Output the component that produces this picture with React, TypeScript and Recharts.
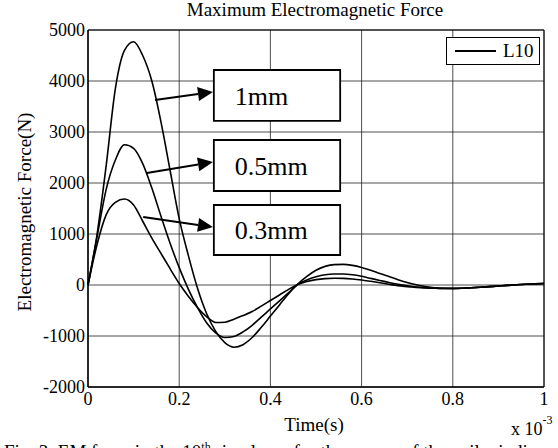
import {
  LineChart,
  Line,
  XAxis,
  YAxis,
  CartesianGrid,
  Legend,
  ReferenceArea,
  ReferenceLine,
} from 'recharts'

const FONT = 'Liberation Serif, Times New Roman, Times, serif'

// time in ms (axis shows x 10^-3 s)
const time = [
  0, 0.02, 0.04, 0.06, 0.08, 0.1, 0.12, 0.14, 0.16, 0.18, 0.2, 0.22, 0.24, 0.26, 0.28, 0.3, 0.32,
  0.34, 0.36, 0.38, 0.4, 0.42, 0.44, 0.46, 0.48, 0.5, 0.52, 0.54, 0.56, 0.58, 0.6, 0.62, 0.64,
  0.66, 0.68, 0.7, 0.72, 0.74, 0.76, 0.78, 0.8, 0.82, 0.84, 0.86, 0.88, 0.9, 0.92, 0.94, 0.96,
  0.98, 1,
]

const force1mm = [
  0, 1000, 2350, 3850, 4600, 4770, 4500, 4000, 3200, 2250, 1300, 580, -60, -560, -910, -1130,
  -1220, -1170, -1030, -830, -610, -390, -170, 20, 170, 290, 365, 400, 405, 385, 345, 290, 225,
  165, 105, 50, 5, -30, -55, -65, -68, -65, -55, -45, -32, -20, -8, 5, 15, 22, 28,
]

const force05mm = [
  0, 950, 1880, 2450, 2750, 2680, 2380, 1900, 1350, 820, 340, -80, -440, -740, -940, -1030,
  -1010, -920, -790, -630, -470, -310, -150, 10, 100, 160, 200, 215, 215, 200, 170, 130, 90, 50,
  15, -15, -38, -52, -62, -68, -68, -64, -55, -44, -32, -20, -8, 5, 15, 22, 28,
]

const force03mm = [
  0, 800, 1380, 1620, 1685, 1570, 1250, 920, 620, 320, 30, -220, -440, -620, -735, -730, -670,
  -600, -520, -415, -305, -195, -85, 10, 70, 105, 125, 132, 130, 118, 98, 72, 45, 15, -12, -32,
  -46, -56, -62, -66, -67, -64, -55, -44, -32, -20, -8, 5, 15, 22, 28,
]

const xTicks = [0, 0.2, 0.4, 0.6, 0.8, 1]
const yTicks = [-2000, -1000, 0, 1000, 2000, 3000, 4000, 5000]
const legendLabels = ['L10']

// annotation boxes and the arrows pointing at the curves
const annotations = [
  { label: '1mm', x1: 0.276, x2: 0.553, y1: 3220, y2: 4216 },
  { label: '0.5mm', x1: 0.276, x2: 0.553, y1: 1843, y2: 2843 },
  { label: '0.3mm', x1: 0.276, x2: 0.553, y1: 588, y2: 1569 },
]
const arrows = [
  { from: { x: 0.147, y: 3628 }, to: { x: 0.274, y: 3785 } },
  { from: { x: 0.129, y: 2196 }, to: { x: 0.274, y: 2412 } },
  { from: { x: 0.121, y: 1333 }, to: { x: 0.274, y: 1137 } },
]

const data = time.map((t, i) => ({
  t,
  a: force1mm[i],
  b: force05mm[i],
  c: force03mm[i],
}))

const serif = { fontFamily: FONT }

const XTick = ({ x, y, payload }: any) => (
  <text x={x} y={y + 13} textAnchor="middle" fontSize={18} fill="#000" style={serif}>
    {String(payload.value)}
  </text>
)

const YTick = ({ x, y, payload }: any) => (
  <text x={x} y={y + 6} textAnchor="end" fontSize={18} fill="#000" style={serif}>
    {String(payload.value)}
  </text>
)

const ArrowShape = (props: any) => {
  const { x1, y1, x2, y2 } = props
  const dx = x2 - x1
  const dy = y2 - y1
  const len = Math.sqrt(dx * dx + dy * dy)
  const ux = dx / len
  const uy = dy / len
  const head = 15
  const half = 7
  const bx = x2 - ux * head
  const by = y2 - uy * head
  const pts = `${x2},${y2} ${bx - uy * half},${by + ux * half} ${bx + uy * half},${by - ux * half}`
  return (
    <g>
      <line x1={x1} y1={y1} x2={bx} y2={by} stroke="#000" strokeWidth={2} />
      <polygon points={pts} fill="#000" />
    </g>
  )
}

const LegendBox = () => (
  <div
    style={{
      width: 92,
      height: 26,
      border: '1.5px solid #000',
      background: '#fff',
      display: 'flex',
      alignItems: 'center',
      fontFamily: FONT,
      fontSize: 19,
      color: '#000',
    }}
  >
    {legendLabels.map((l) => (
      <span key={l} style={{ display: 'flex', alignItems: 'center' }}>
        <span
          style={{ display: 'inline-block', width: 41, height: 2, background: '#000', marginLeft: 8, marginRight: 7 }}
        />
        {l}
      </span>
    ))}
  </div>
)

export default function App() {
  return (
    <div
      style={{
        position: 'absolute',
        left: 0,
        top: 0,
        width: 558,
        height: 448,
        overflow: 'hidden',
        background: '#fff',
        fontFamily: FONT,
      }}
    >
      <LineChart
        width={558}
        height={448}
        data={data}
        margin={{ top: 30, right: 14, bottom: 31, left: 28 }}
        style={serif}
      >
        <CartesianGrid stroke="#222" strokeWidth={0.8} />
        <XAxis
          dataKey="t"
          type="number"
          domain={[0, 1]}
          ticks={xTicks}
          height={30}
          tickSize={0}
          tickMargin={5}
          stroke="#000"
          tick={<XTick />}
        />
        <YAxis
          type="number"
          domain={[-2000, 5000]}
          ticks={yTicks}
          width={60}
          tickSize={0}
          tickMargin={3}
          stroke="#000"
          tick={<YTick />}
        />
        <ReferenceArea x1={0} x2={1} y1={-2000} y2={5000} fill="none" fillOpacity={0} stroke="#000" strokeWidth={1} />
        <Line type="monotone" dataKey="a" name="1mm" stroke="#000" strokeWidth={1.6} dot={false} activeDot={false} isAnimationActive={false} />
        <Line type="monotone" dataKey="b" name="0.5mm" stroke="#000" strokeWidth={1.6} dot={false} activeDot={false} isAnimationActive={false} />
        <Line type="monotone" dataKey="c" name="0.3mm" stroke="#000" strokeWidth={1.6} dot={false} activeDot={false} isAnimationActive={false} />
        {annotations.map((a) => (
          <ReferenceArea
            key={a.label}
            x1={a.x1}
            x2={a.x2}
            y1={a.y1}
            y2={a.y2}
            fill="#fff"
            fillOpacity={1}
            stroke="#000"
            strokeWidth={1.8}
            label={{ value: a.label, position: 'insideLeft', offset: 21, fontSize: 26, fill: '#000', fontFamily: FONT }}
          />
        ))}
        {arrows.map((ar, i) => (
          <ReferenceLine key={i} segment={[ar.from, ar.to]} shape={ArrowShape} stroke="#000" />
        ))}
        <Legend
          layout="horizontal"
          verticalAlign="middle"
          align="center"
          wrapperStyle={{ top: 37, left: 446, width: 95 }}
          content={() => <LegendBox />}
        />
      </LineChart>
      <svg
        width={558}
        height={448}
        style={{ position: 'absolute', left: 0, top: 0, pointerEvents: 'none', fontFamily: FONT }}
        fill="#000"
      >
        <text x={315} y={16} textAnchor="middle" fontSize={19}>
          Maximum Electromagnetic Force
        </text>
        <text x={24} y={212} textAnchor="middle" dominantBaseline="central" fontSize={19} transform="rotate(-90 24 212)">
          Electromagnetic Force(N)
        </text>
        <text x={314} y={431} textAnchor="middle" fontSize={19}>
          Time(s)
        </text>
        <text x={511} y={435} fontSize={18}>
          x 10
          <tspan fontSize={12} dy={-11}>
            -3
          </tspan>
        </text>
        <text x={4} y={458} fontSize={19}>
          Fig. 3. EM force in the 10
          <tspan fontSize={12} dy={-7}>
            th
          </tspan>
          <tspan dy={7}> ring layer for three gaps of the coil winding</tspan>
        </text>
      </svg>
    </div>
  )
}
